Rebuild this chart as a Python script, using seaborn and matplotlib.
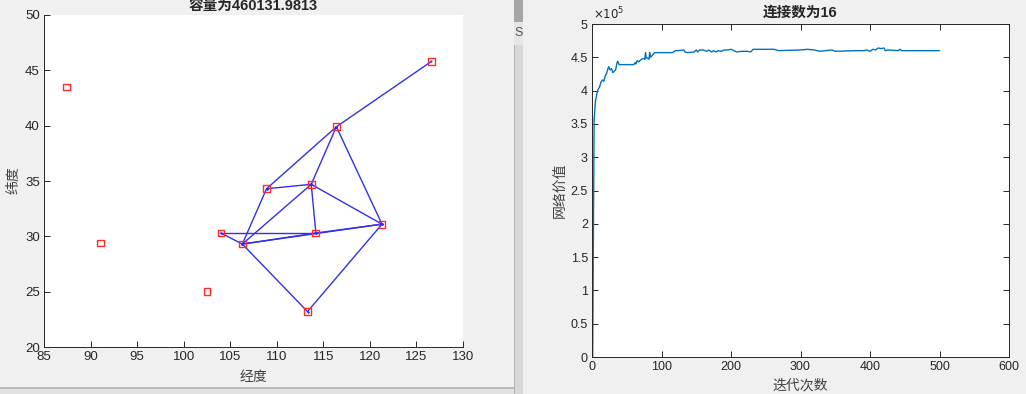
import numpy as np
import pandas as pd
import matplotlib
matplotlib.use("Agg")
import matplotlib.pyplot as plt
import seaborn as sns
from matplotlib.patches import Rectangle
from matplotlib.ticker import FuncFormatter, MultipleLocator

# ---------------- data ----------------
city_lon = [87.4, 91.1, 102.5, 104.0, 106.3, 108.9, 113.7, 114.2, 116.4, 121.3, 113.3, 126.6]
city_lat = [43.5, 29.4, 25.0, 30.3, 29.3, 34.3, 34.7, 30.3, 39.9, 31.1, 23.2, 45.8]
edge_from = [11, 8, 8, 8, 5, 5, 6, 6, 6, 3, 3, 4, 4, 7, 4, 10]
edge_to   = [8, 5, 6, 9, 6, 4, 4, 7, 9, 4, 7, 7, 9, 9, 10, 9]

iterations = [1, 3, 5, 8, 11, 13, 15, 17, 19, 21, 23, 24, 26, 28, 30, 32, 34, 36, 37, 39,
              60, 62, 63, 65, 67, 70, 73, 75, 76, 77, 78, 80, 82, 83, 84, 86, 90, 116, 120, 124,
              132, 134, 137, 147, 150, 152, 155, 160, 165, 168, 172, 175, 178, 182, 186, 190, 195, 200, 204, 208,
              215, 224, 228, 232, 236, 262, 268, 300, 310, 320, 328, 345, 350, 380, 392, 395, 400, 404, 408, 412,
              416, 420, 422, 426, 440, 443, 446, 500]
network_value = [0, 355000, 385000, 400000, 406000, 413000, 416000, 414000, 422000, 426000,
                 433000, 436000, 431000, 433000, 427000, 429000, 431000, 442000, 444000, 439000,
                 439000, 442000, 440000, 445000, 443000, 446000, 448000, 448000, 447000, 457000,
                 449000, 449000, 447000, 457000, 450000, 452000, 457000, 457000, 460000, 460000,
                 461000, 458000, 457000, 458000, 461000, 458000, 461000, 461000, 459000, 461000,
                 458000, 460000, 458000, 460000, 459000, 461000, 461000, 462000, 460000, 458000,
                 459000, 459000, 458000, 462000, 462000, 462000, 460000, 461000, 462000, 461000,
                 459000, 461000, 459000, 460000, 460000, 461000, 459000, 462000, 461000, 464000,
                 463000, 464000, 460000, 461000, 460000, 462000, 460000, 460000]

left_title = "容量为460131.9813"
right_title = "连接数为16"
left_xlabel, left_ylabel = "经度", "纬度"
right_xlabel, right_ylabel = "迭代次数", "网络价值"
lon_ticks = [85, 90, 95, 100, 105, 110, 115, 120, 125, 130]
lat_ticks = [20, 25, 30, 35, 40, 45, 50]
iter_ticks = [0, 100, 200, 300, 400, 500, 600]
value_ticks = [0, 50000, 100000, 150000, 200000, 250000, 300000, 350000, 400000, 450000, 500000]

# ---------------- style ----------------
sns.set_style("ticks")
plt.rcParams["font.family"] = ["Liberation Sans", "Noto Sans CJK SC", "DejaVu Sans"]
plt.rcParams["axes.unicode_minus"] = False
TXT = "#262626"
CJK = ["Noto Sans CJK SC", "DejaVu Sans"]

W, H = 1026, 394
fig = plt.figure(figsize=(W / 100, H / 100), dpi=100, facecolor="#f0f0f0")

def frect(x0, y0, x1, y1, color):
    fig.patches.append(Rectangle((x0 / W, 1 - y1 / H), (x1 - x0) / W, (y1 - y0) / H,
                                 transform=fig.transFigure, facecolor=color,
                                 edgecolor="none", zorder=-5))

# window chrome
frect(0, 388, 514, 394, "#e2e2e2")
frect(0, 387, 514, 388.5, "#bcbcbc")
frect(514, 0, 523, 394, "#d8d8d8")
frect(514, 0, 515, 394, "#b4b4b4")
frect(514, 0, 523, 22, "#a6a6a6")
frect(514, 22, 523, 45, "#e6e6e6")
chrome_ax = fig.add_axes([514 / W, 1 - 45 / H, 9 / W, 23 / H])
chrome_ax.set_axis_off()
chrome_ax.set_xlim(0, 1)
chrome_ax.set_ylim(0, 1)
chrome_ax.text(0.05, 0.5, "SC", fontsize=9, color="#555555", va="center", ha="left", clip_on=True)

# ---------------- left: network map ----------------
ax1 = fig.add_axes([44 / W, 1 - 347 / H, 419 / W, 332 / H])
ax1.set_facecolor("white")

rows = []
for k, (a, b) in enumerate(zip(edge_from, edge_to)):
    rows.append({"edge": k, "lon": city_lon[a], "lat": city_lat[a]})
    rows.append({"edge": k, "lon": city_lon[b], "lat": city_lat[b]})
edge_df = pd.DataFrame(rows)
cities = pd.DataFrame({"lon": city_lon, "lat": city_lat})

sns.lineplot(data=edge_df, x="lon", y="lat", units="edge", estimator=None, sort=False,
             color="#3030ee", lw=1.0, marker=".", markersize=3, markeredgewidth=0,
             ax=ax1, legend=False, zorder=2)
sns.scatterplot(data=cities, x="lon", y="lat", marker="s", s=24, color="#ff2a2a",
                facecolor="none", edgecolor="#ff2a2a", linewidth=1.0, ax=ax1, zorder=3)

ax1.set_xlim(85, 130)
ax1.set_ylim(20, 50)
ax1.set_xticks(lon_ticks)
ax1.set_yticks(lat_ticks)
for s in ["top", "right"]:
    ax1.spines[s].set_visible(False)
for s in ["left", "bottom"]:
    ax1.spines[s].set_color(TXT)
    ax1.spines[s].set_linewidth(0.7)
ax1.tick_params(direction="in", length=4, width=0.7, color=TXT, labelcolor=TXT,
                labelsize=9.5, pad=3)
ax1.set_xlabel(left_xlabel, family=CJK, fontsize=10, color="#404040")
ax1.set_ylabel(left_ylabel, family=CJK, fontsize=10, color="#404040")
ax1.xaxis.set_label_coords(0.5, -0.068)
ax1.yaxis.set_label_coords(-0.057, 0.503)
ax1.set_title(left_title, fontsize=10.5, color=TXT, y=1.026, va="center", pad=0,
              fontweight="bold")

# ---------------- right: convergence ----------------
ax2 = fig.add_axes([592 / W, 1 - 357 / H, 417 / W, 333 / H])
ax2.set_facecolor("white")
sns.lineplot(x=iterations, y=network_value, estimator=None, color="#0072BD", lw=1.0, ax=ax2)
ax2.set_xlim(0, 600)
ax2.set_ylim(0, 500000)
ax2.set_xticks(iter_ticks)
ax2.set_yticks(value_ticks)
ax2.yaxis.set_major_formatter(FuncFormatter(lambda v, p: f"{v / 1e5:g}"))
for s in ax2.spines.values():
    s.set_color(TXT)
    s.set_linewidth(0.7)
ax2.tick_params(direction="in", length=4, width=0.7, color=TXT, labelcolor=TXT,
                labelsize=9, pad=3, top=True, right=True)
ax2.set_xlabel(right_xlabel, family=CJK, fontsize=10, color="#404040")
ax2.set_ylabel(right_ylabel, family=CJK, fontsize=10, color="#404040")
ax2.xaxis.set_label_coords(0.499, -0.066)
ax2.yaxis.set_label_coords(-0.062, 0.50)
ax2.set_title(right_title, fontsize=10.5, color=TXT, y=1.0345, va="center", pad=0,
              fontweight="bold")
ax2.text(0.002, 1.004, r"$\times10^{5}$", transform=ax2.transAxes, fontsize=8.5,
         color=TXT, ha="left", va="bottom")

fig.savefig("out.png", dpi=100, facecolor=fig.get_facecolor())
